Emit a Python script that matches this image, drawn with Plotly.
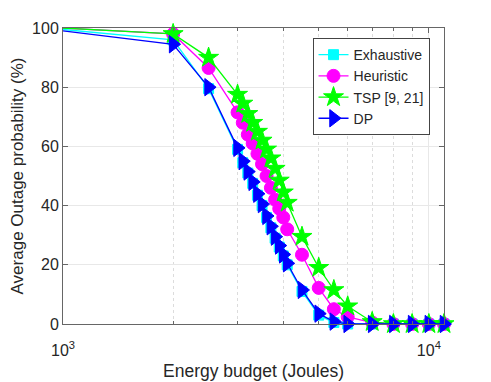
import plotly.graph_objects as go

# energy budget values (Joules)
energy = [1000, 2000, 2500, 3000, 3100, 3200, 3300, 3400, 3500, 3600, 3700,
          3800, 3900, 4000, 4100, 4500, 5000, 5500, 6000, 7000, 8000, 9000,
          10000, 11000]

# average outage probability (%) per scheme
exhaustive = [99.5, 96, 79.5, 59, 54.5, 51, 47.5, 43.5, 40, 36, 32.5, 29,
              26, 23, 20, 11, 3, 0.5, 0, 0, 0, 0, 0, 0]
heuristic = [100, 98, 86.5, 71.5, 68, 64, 61, 57.5, 54, 50, 46, 42, 39, 36,
             32, 23.4, 12.2, 5, 2.4, 0.5, 0, 0, 0, 0]
tsp = [100, 98, 90, 77.5, 74.5, 71, 68, 65, 62, 59, 56, 52.5, 48.5, 44.5,
       41, 29.5, 19, 11.5, 6, 0.7, 0, 0, 0, 0]
dp = [99, 94.5, 80, 59.5, 55, 51.5, 48, 44, 40.5, 36.5, 33, 29.5, 26.5,
      23.5, 20.5, 11.5, 3.5, 0.8, 0, 0, 0, 0, 0, 0]

series = [
    ("Exhaustive", exhaustive, "#00FFFF", "square", 10),
    ("Heuristic", heuristic, "#FF00FF", "circle", 13),
    ("TSP [9, 21]", tsp, "#00FF00", "star", 15),
    ("DP", dp, "#0000FF", "triangle-right", 15),
]

fig = go.Figure()
for name, vals, color, symbol, size in series:
    fig.add_trace(go.Scatter(
        x=energy, y=vals, name=name, mode="lines+markers",
        line=dict(color=color, width=1.3),
        marker=dict(symbol=symbol, size=size, color=color,
                    line=dict(color=color, width=1)),
        cliponaxis=False,
    ))

# the page body adds an 8px offset, so the figure is a bit smaller
axis_col = "#666666"
fig.update_layout(
    width=483, height=374,
    margin=dict(l=55, r=47, t=20, b=58),
    paper_bgcolor="white", plot_bgcolor="white",
    font=dict(family="Liberation Sans, Arial, sans-serif", size=16,
              color="#262626"),
    showlegend=True,
    legend=dict(x=0.962, y=0.966, xanchor="right", yanchor="top",
                bgcolor="white", bordercolor="#444444", borderwidth=1,
                font=dict(size=14), tracegroupgap=0,
                itemwidth=30),
)

fig.update_xaxes(
    type="log", range=[3, 4.0414], automargin=False,
    tickvals=[1000, 10000], ticktext=["10<sup>3</sup>", "10<sup>4</sup>"],
    ticks="inside", ticklen=5, tickcolor=axis_col,
    showline=True, linecolor=axis_col, linewidth=1, mirror="allticks",
    showgrid=True, gridcolor="#e8e8e8",
    minor=dict(tickvals=[2000, 3000, 4000, 5000, 6000, 7000, 8000, 9000],
               ticks="inside", ticklen=3, tickcolor=axis_col,
               showgrid=True, gridcolor="#dcdcdc", griddash="dot",
               gridwidth=1),
    ticklabelstandoff=12,
    title=dict(text="Energy budget (Joules)", font=dict(size=17.5),
               standoff=6),
    zeroline=False,
)
fig.update_yaxes(
    range=[0, 100], tickvals=[0, 20, 40, 60, 80, 100], automargin=False,
    ticks="inside", ticklen=5, tickcolor=axis_col,
    showline=True, linecolor=axis_col, linewidth=1, mirror="allticks",
    showgrid=True, gridcolor="#e8e8e8",
    ticklabelstandoff=0,
    title=dict(text="Average Outage probability (%)", font=dict(size=17),
               standoff=9),
    zeroline=False,
)

fig.write_html("out.html")
